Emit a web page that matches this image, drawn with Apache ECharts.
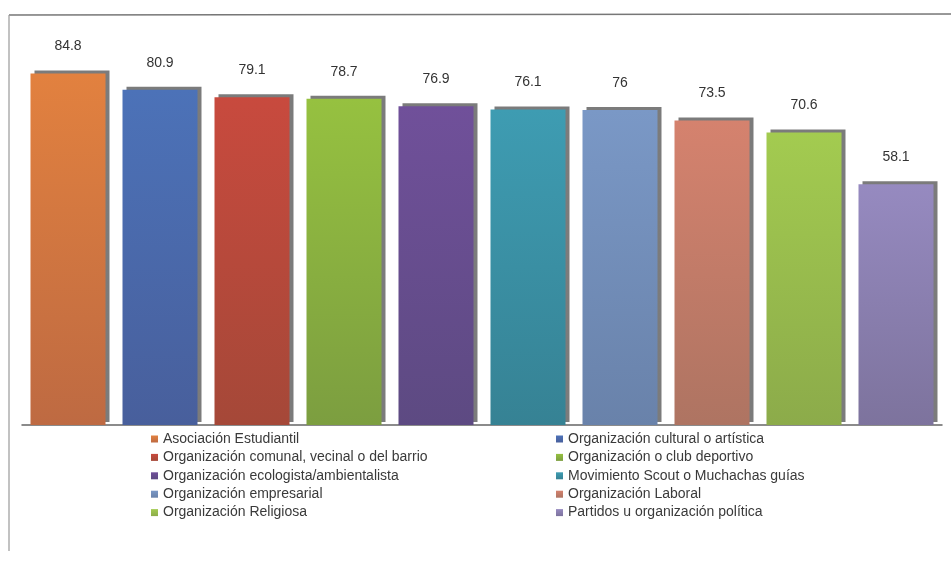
<!DOCTYPE html>
<html>
<head>
<meta charset="utf-8">
<script src="https://cdn.jsdelivr.net/npm/echarts@6/dist/echarts.min.js"></script>
<style>
html,body{margin:0;padding:0;background:#fff;}
#chart{width:951px;height:561px;}
</style>
</head>
<body>
<div id="chart"></div>
<script>
const categories = [
  "Asociación Estudiantil",
  "Organización cultural o artística",
  "Organización comunal, vecinal o del barrio",
  "Organización o club deportivo",
  "Organización ecologista/ambientalista",
  "Movimiento Scout o Muchachas guías",
  "Organización empresarial",
  "Organización Laboral",
  "Organización Religiosa",
  "Partidos u organización política"
];
const values = [84.8, 80.9, 79.1, 78.7, 76.9, 76.1, 76, 73.5, 70.6, 58.1];
const topColors = ["#E2813F", "#4C72B8", "#C84A3E", "#96C140", "#70509A", "#3E9CB2", "#7A98C6", "#D5826E", "#A3CB50", "#968AC0"];
const bottomColors = ["#BE6A42", "#485F9C", "#A54838", "#7C9E40", "#5D4A82", "#368294", "#6982AA", "#AE7462", "#8CAB4A", "#7D739D"];

const chart = echarts.init(document.getElementById('chart'));

const series = categories.map((name, i) => ({
  name: name,
  type: 'bar',
  barWidth: 75,
  barGap: '-100%',
  data: values.map((v, j) => j === i ? v : '-'),
  itemStyle: {
    color: new echarts.graphic.LinearGradient(0, 0, 0, 1, [
      {offset: 0, color: topColors[i]},
      {offset: 1, color: bottomColors[i]}
    ]),
    shadowColor: 'rgba(100,100,100,0.85)',
    shadowOffsetX: 4,
    shadowOffsetY: -3,
    shadowBlur: 0
  },
  label: {
    show: true,
    position: 'top',
    distance: 20,
    color: '#333',
    fontSize: 14,
    fontFamily: 'Liberation Sans, Arial, sans-serif'
  },
  emphasis: {disabled: true}
}));

const legendText = {
  color: '#3a3a3a',
  fontSize: 14,
  lineHeight: 16,
  fontFamily: 'Liberation Sans, Arial, sans-serif'
};

chart.setOption({
  animation: false,
  backgroundColor: '#fff',
  grid: {left: 22, right: 9, top: 52, bottom: 136},
  xAxis: {
    type: 'category',
    data: categories,
    axisLine: {lineStyle: {color: '#666', width: 1.5}},
    axisTick: {show: false},
    axisLabel: {show: false}
  },
  yAxis: {
    type: 'value',
    min: 0,
    max: 90,
    show: false,
    splitLine: {show: false}
  },
  legend: [
    {
      data: categories.filter((c, i) => i % 2 === 0),
      orient: 'vertical',
      left: 146,
      top: 426,
      itemWidth: 7,
      itemHeight: 7,
      itemGap: 2.4,
      icon: 'rect',
      textStyle: legendText,
      selectedMode: false
    },
    {
      data: categories.filter((c, i) => i % 2 === 1),
      orient: 'vertical',
      left: 551,
      top: 426,
      itemWidth: 7,
      itemHeight: 7,
      itemGap: 2.4,
      icon: 'rect',
      textStyle: legendText,
      selectedMode: false
    }
  ],
  graphic: [
    {type: 'line', shape: {x1: 9, y1: 15, x2: 951, y2: 14}, style: {stroke: '#777', lineWidth: 1.5}},
    {type: 'line', shape: {x1: 9, y1: 15, x2: 9, y2: 551}, style: {stroke: '#999', lineWidth: 1.2}}
  ],
  series: series
});
</script>
</body>
</html>
